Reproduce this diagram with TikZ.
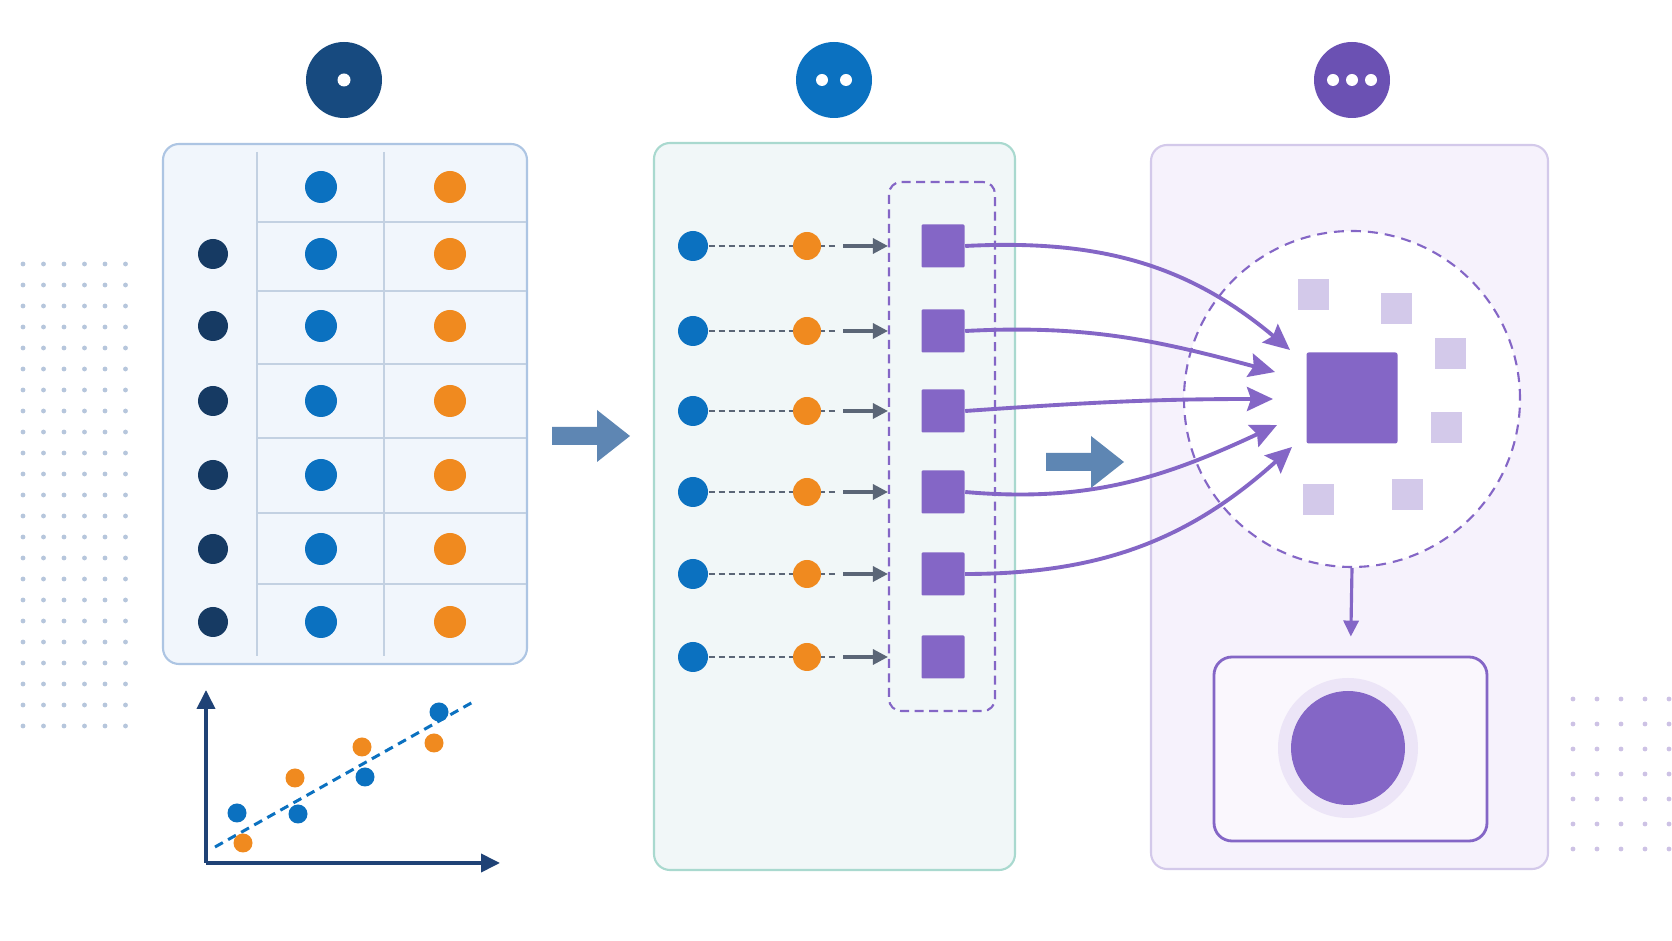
\documentclass[tikz,border=0pt]{standalone}
\usepackage{tikz}
\usetikzlibrary{positioning,arrows.meta,calc}

\definecolor{bleumarin}{HTML}{174A7F}
\definecolor{bleuinchis}{HTML}{163A63}
\definecolor{albastru}{HTML}{0B71C0}
\definecolor{portocaliu}{HTML}{F08A1F}
\definecolor{mov}{HTML}{8466C6}
\definecolor{movinchis}{HTML}{6B51B3}
\definecolor{movdeschis}{HTML}{D3C9EA}
\definecolor{movpal}{HTML}{ECE5F7}
\definecolor{gri}{HTML}{5B6677}
\definecolor{otel}{HTML}{5E86B3}
\definecolor{axa}{HTML}{1F4276}
\definecolor{grila}{HTML}{B6C6DC}
\definecolor{grilamov}{HTML}{CDC2E5}
\definecolor{fundtabel}{HTML}{F1F6FC}
\definecolor{margtabel}{HTML}{ADC5E3}
\definecolor{liniitabel}{HTML}{C3D1E2}
\definecolor{fundmijloc}{HTML}{F1F7F8}
\definecolor{margmijloc}{HTML}{A9D9CF}
\definecolor{funddreapta}{HTML}{F6F2FC}
\tikzset{
  panou/.style    = {draw, rounded corners=1.6mm, line width=0.6pt, inner sep=0pt},
  antet/.style    = {circle, inner sep=0pt, minimum size=7.6mm},
  ochi/.style     = {circle, fill=white, inner sep=0pt, minimum size=1.3mm},
  punct/.style    = {circle, inner sep=0pt, minimum size=3.2mm},
  patrat/.style   = {fill=mov, inner sep=0pt, minimum size=4.3mm, rounded corners=0.3pt},
  palid/.style    = {fill=movdeschis, inner sep=0pt, minimum size=3.1mm},
  linie/.style    = {draw=liniitabel, line width=0.45pt},
  punctat/.style  = {gri, line width=0.65pt, dash pattern=on 0.6mm off 0.4mm},
  sageata/.style  = {-{Stealth[length=1.5mm, width=1.5mm, inset=0pt]}, gri, line width=0.9pt},
  curba/.style    = {-{Stealth[length=2.6mm, width=2.4mm, inset=0.4mm]}, mov, line width=1.1pt},
  axe/.style      = {-{Stealth[length=1.9mm, width=1.8mm, inset=0pt]}, axa, line width=1.1pt},
  grup/.style     = {draw=mov, dash pattern=on 0.9mm off 0.55mm, line width=0.6pt,
                     rounded corners=1.2mm, inner sep=0pt}
}

\begin{document}
\begin{tikzpicture}[x=0.1mm, y=-0.1mm]
    \fill[white] (0,0) rectangle (1672,941);
    \useasboundingbox (0,0) rectangle (1672,941);

    % puncte decorative
    \foreach \i in {0,...,5}
        \foreach \j in {0,...,22}
            \fill[grila] (23+20.5*\i, 264+21*\j) circle (2.4);
    \foreach \i in {0,...,4}
        \foreach \j in {0,...,6}
            \fill[grilamov] (1573+24*\i, 699+25*\j) circle (2.4);

    % cercurile de sus
    \node[antet, fill=bleumarin] (c1) at (344,80) {};
    \node[ochi] at (c1) {};
    \node[antet, fill=albastru] (c2) at (834,80) {};
    \node[ochi, minimum size=1.2mm] at (822,80) {};
    \node[ochi, minimum size=1.2mm] at (846,80) {};
    \node[antet, fill=movinchis] (c3) at (1352,80) {};
    \foreach \x in {1333,1352,1371}
        \node[ochi, minimum size=1.2mm] at (\x,80) {};

    % tabelul
    \node[panou, draw=margtabel, fill=fundtabel, minimum width=36.4mm, minimum height=52mm]
        (tabel) at (345,404) {};
    \foreach \x in {257,384}
        \draw[linie] (\x,152) -- (\x,656);
    \foreach \y in {222,291,364,438,513,584}
        \draw[linie] (257,\y) -- (526,\y);
    \node[punct, fill=albastru] (a0) at (321,187) {};
    \node[punct, fill=portocaliu] (p0) at (450,187) {};
    \foreach \y [count=\i] in {254,326,401,475,549,622} {
        \node[punct, fill=bleuinchis, minimum size=3mm] (r\i) at (213,\y) {};
        \node[punct, fill=albastru] (a\i) at (321,\y) {};
        \node[punct, fill=portocaliu] (p\i) at (450,\y) {};
    }

    % graficul
    \coordinate (origine) at (206,863);
    \coordinate (sus) at (206,690);
    \coordinate (dreapta) at (500,863);
    \draw[axe] (origine) -- (sus);
    \draw[axe] (origine) -- (dreapta);
    \coordinate (d1) at (215,847);
    \coordinate (d2) at (473,702);
    \draw[albastru, line width=0.85pt, dash pattern=on 0.9mm off 0.6mm] (d1) -- (d2);
    \foreach \x/\y in {237/813, 298/814, 365/777, 439/712}
        \node[punct, fill=albastru, minimum size=1.9mm] at (\x,\y) {};
    \foreach \x/\y in {243/843, 295/778, 362/747, 434/743}
        \node[punct, fill=portocaliu, minimum size=1.9mm] at (\x,\y) {};

    % sageti intre panouri
    \foreach \x/\y in {552/436, 1046/462}
        \fill[otel] (\x,\y-9) -- ++(45,0) -- ++(0,-17) -- ++(33,26) -- ++(-33,26)
            -- ++(0,-17) -- ++(-45,0) -- cycle;

    % panoul din mijloc
    \node[panou, draw=margmijloc, fill=fundmijloc, minimum width=36.1mm, minimum height=72.7mm]
        (mijloc) at (834.5,506.5) {};
    \node[grup, minimum width=10.6mm, minimum height=52.9mm] (lot) at (942,446.5) {};
    \foreach \y [count=\i] in {246,331,411,492,574,657} {
        \node[punct, fill=albastru, minimum size=3mm] (b\i) at (693,\y) {};
        \coordinate (s\i) at (838,\y);
        \draw[punctat] (b\i) -- (s\i);
        \node[punct, fill=portocaliu, minimum size=2.8mm] (o\i) at (807,\y) {};
        \draw[sageata] (s\i) ++(5,0) -- (s\i -| lot.west);
        \node[patrat] (q\i) at (943,\y) {};
    }

    % panoul din dreapta
    \node[panou, draw=movdeschis, fill=funddreapta, minimum width=39.7mm, minimum height=72.4mm]
        (dreapta) at (1349.5,507) {};
    \node[circle, draw=mov, fill=white, line width=0.6pt, dash pattern=on 1mm off 0.7mm,
          inner sep=0pt, minimum size=33.6mm] (cerc) at (1352,399) {};
    \node[patrat, minimum size=9.1mm, rounded corners=0.6pt] (nucleu) at (1352,398) {};
    \foreach \x/\y in {1313/295, 1396/309, 1450/354, 1446/428, 1407/495, 1318/500}
        \node[palid] at (\x,\y) {};

    \coordinate (t1) at (1290,350);
    \coordinate (t2) at (1275,372);
    \coordinate (t3) at (1273,399);
    \coordinate (t4) at (1277,425);
    \coordinate (t5) at (1292,447);
    \draw[curba] (q1.east) to[out=3, in=140] (t1);
    \draw[curba] (q2.east) to[out=3, in=165] (t2);
    \draw[curba] (q3.east) to[out=4, in=180] (t3);
    \draw[curba] (q4.east) to[out=-5, in=205] (t4);
    \draw[curba] (q5.east) to[out=0, in=222] (t5);

    % rezultatul
    \node[panou, draw=mov, fill=funddreapta!60, line width=0.8pt, rounded corners=1.8mm,
          minimum width=27.3mm, minimum height=18.4mm] (rezultat) at (1350.5,749) {};
    \node[circle, fill=movpal, inner sep=0pt, minimum size=14mm] (halou) at (1348,748) {};
    \node[circle, fill=mov, inner sep=0pt, minimum size=11.4mm] (final) at (halou) {};
    \draw[-{Stealth[length=1.6mm, width=1.5mm, inset=0pt]}, mov, line width=0.9pt,
          shorten >=1.9mm] (cerc.south) -- (rezultat.north);
\end{tikzpicture}
\end{document}
